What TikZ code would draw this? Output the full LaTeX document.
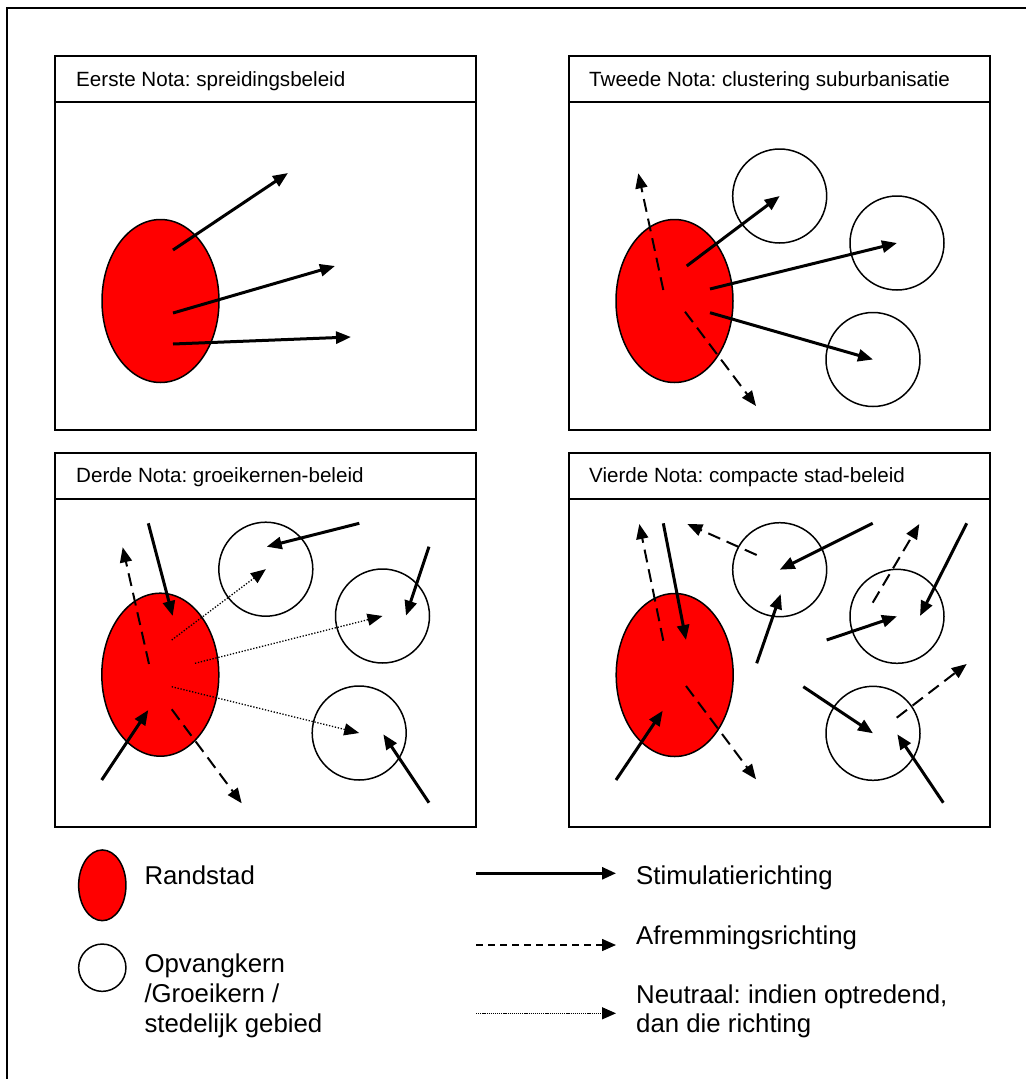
\documentclass[tikz,border=0pt]{standalone}
\usepackage{fontspec}
\setmainfont{Liberation Sans}
\usetikzlibrary{arrows.meta,shapes.geometric}
\frenchspacing

\begin{document}
\begin{tikzpicture}[x=1pt,y=-1pt,
  panel/.style={draw, line width=1.8pt, minimum width=421pt, minimum height=374pt, inner sep=0pt},
  title/.style={anchor=base west, inner sep=0pt, font=\fontsize{20.6}{24}\selectfont},
  legtext/.style={anchor=base west, inner sep=0pt, align=left, font=\fontsize{25.8}{29.7}\selectfont},
  randstad/.style={ellipse, draw, line width=1.5pt, fill=red, minimum width=117pt, minimum height=163pt, inner sep=0pt},
  kern/.style={circle, draw, line width=1.5pt, minimum size=94pt, inner sep=0pt},
  tip/.style={-{Triangle[length=15pt,width=12pt]}},
  stim/.style={tip, line width=3pt},
  rem/.style={tip, line width=2pt, dash pattern=on 13pt off 7pt},
  neut/.style={tip, line width=1.3pt, dash pattern=on 1.3pt off 1.7pt},
  legtip/.style={-{Triangle[length=14pt,width=12pt]}},
]
\useasboundingbox (0,0) rectangle (1026,1079);
\fill[white] (0,0) rectangle (1026,1079);

% outer frame (only top and left edges fall inside the page)
\draw[line width=2pt] (7,1079) -- (7,8) -- (1026,8);

% ---------- the four panels ----------
\node[panel] (p1) at (265.5,243) {};
\node[panel] (p2) at (779.5,243) {};
\node[panel] (p3) at (265.5,640) {};
\node[panel] (p4) at (779.5,640) {};
\foreach \p in {p1,p2,p3,p4}
  \draw[line width=1.8pt] ([yshift=-47pt]\p.north west) -- ([yshift=-47pt]\p.north east);

\node[title] (t1) at (76,86)    {Eerste Nota: spreidingsbeleid};
\node[title] (t2) at (589,86)   {Tweede Nota: clustering suburbanisatie};
\node[title] (t3) at (76,482.7) {Derde Nota: groeikernen-beleid};
\node[title] (t4) at (589,482.7){Vierde Nota: compacte stad-beleid};

% ---------- panel 1 ----------
\node[randstad] (e1) at (160.5,301) {};
\coordinate (a11) at (173,250);   \coordinate (b11) at (288,173);
\coordinate (a12) at (173,313);   \coordinate (b12) at (335,266);
\coordinate (a13) at (173,344);   \coordinate (b13) at (351,337);
\draw[stim] (a11) -- (b11);
\draw[stim] (a12) -- (b12);
\draw[stim] (a13) -- (b13);

% ---------- panel 2 ----------
\node[randstad] (e2) at (674.5,301) {};
\node[kern] (c21) at (779.7,196) {};
\node[kern] (c22) at (897,243) {};
\node[kern] (c23) at (873,359.5) {};
\coordinate (a21) at (686.7,266);
\coordinate (a22) at (710,289);
\coordinate (a23) at (710,312.7);
\draw[stim] (a21) -- (c21.center);
\draw[stim] (a22) -- (c22.center);
\draw[stim] (a23) -- (c23.center);
\coordinate (a24) at (663.3,290);   \coordinate (b24) at (638.3,173.3);
\coordinate (a25) at (685,311.7);   \coordinate (b25) at (756,406);
\draw[rem] (a24) -- (b24);
\draw[rem] (a25) -- (b25);

% ---------- panel 3 ----------
\node[randstad] (e3) at (160.3,674.7) {};
\node[kern] (c31) at (265.8,569.2) {};
\node[kern] (c32) at (382.5,616) {};
\node[kern] (c33) at (359.2,733) {};
\coordinate (a31) at (148.3,523.3);  \coordinate (b31) at (172.7,616);
\coordinate (a32) at (101.7,780);    \coordinate (b32) at (148.3,710);
\coordinate (a33) at (359.3,523.3);  \coordinate (b33) at (266.7,546.7);
\coordinate (a34) at (429,546.7);    \coordinate (b34) at (406,615.7);
\coordinate (a35) at (429,802.7);    \coordinate (b35) at (383.3,734.3);
\draw[stim] (a31) -- (b31);
\draw[stim] (a32) -- (b32);
\draw[stim] (a33) -- (b33);
\draw[stim] (a34) -- (b34);
\draw[stim] (a35) -- (b35);
\coordinate (a36) at (149,664);      \coordinate (b36) at (122.7,547.3);
\coordinate (a37) at (171.7,709.3);  \coordinate (b37) at (241.7,803.3);
\draw[rem] (a36) -- (b36);
\draw[rem] (a37) -- (b37);
\coordinate (a38) at (171.7,640);
\coordinate (a39) at (195,663.3);
\coordinate (a30) at (171.7,686.7);
\draw[neut] (a38) -- (c31.center);
\draw[neut] (a39) -- (c32.center);
\draw[neut] (a30) -- (c33.center);

% ---------- panel 4 ----------
\node[randstad] (e4) at (674.7,675) {};
\node[kern] (c41) at (779.7,569.7) {};
\node[kern] (c42) at (897,616.3) {};
\node[kern] (c43) at (873,733.3) {};
\coordinate (a41) at (663.3,523.3);  \coordinate (b41) at (686,640);
\coordinate (a42) at (616,780);      \coordinate (b42) at (662.7,710.7);
\coordinate (a43) at (872.7,523.3);
\coordinate (a44) at (756.7,663.3);  \coordinate (b44) at (780.7,594);
\coordinate (a45) at (966.7,523.3);  \coordinate (b45) at (920,616);
\coordinate (a46) at (826.7,640);
\coordinate (a47) at (803.3,686.7);
\coordinate (a48) at (943.3,802.7);  \coordinate (b48) at (897.3,734.3);
\draw[stim] (a41) -- (b41);
\draw[stim] (a42) -- (b42);
\draw[stim] (a43) -- (c41.center);
\draw[stim] (a44) -- (b44);
\draw[stim] (a45) -- (b45);
\draw[stim] (a46) -- (c42.center);
\draw[stim] (a47) -- (c43.center);
\draw[stim] (a48) -- (b48);
\coordinate (d41) at (663.3,640.7);  \coordinate (f41) at (639.3,524);
\coordinate (d42) at (686,686);      \coordinate (f42) at (756,779.3);
\coordinate (d43) at (756.7,555);    \coordinate (f43) at (687.3,524);
\coordinate (d44) at (872.7,602.7);  \coordinate (f44) at (919.3,524);
\coordinate (d45) at (896.7,717.7);  \coordinate (f45) at (966.7,664);
\draw[rem] (d41) -- (f41);
\draw[rem] (d42) -- (f42);
\draw[rem] (d43) -- (f43);
\draw[rem] (d44) -- (f44);
\draw[rem] (d45) -- (f45);

% ---------- legend ----------
\node[ellipse, draw, line width=1.5pt, fill=red, minimum width=47.3pt, minimum height=70.7pt, inner sep=0pt] (le) at (102.3,885.3) {};
\node[circle, draw, line width=1.5pt, minimum size=47.3pt, inner sep=0pt] (lc) at (102.3,967.7) {};
% multi-line nodes: the base anchor sits on the last line
\node[legtext] (lt1) at (144.3,884) {Randstad};
\node[legtext] (lt2) at (144.3,1032) {Opvangkern\\/Groeikern /\\stedelijk gebied};

\coordinate (ls1) at (476,873.3);   \coordinate (le1) at (616,873.3);
\coordinate (ls2) at (476,945);     \coordinate (le2) at (616,945);
\coordinate (ls3) at (476,1013.3);  \coordinate (le3) at (616,1013.3);
\draw[legtip, line width=2.7pt] (ls1) -- (le1);
\draw[legtip, line width=1.5pt, dash pattern=on 7pt off 5pt] (ls2) -- (le2);
\draw[legtip, line width=1.3pt, dash pattern=on 1.2pt off 0.9pt] (ls3) -- (le3);
\node[legtext] (lt3) at (636,884) {Stimulatierichting};
\node[legtext] (lt4) at (636,944) {Afremmingsrichting};
\node[legtext] (lt5) at (636,1032.7) {Neutraal: indien optredend,\\dan die richting};
\end{tikzpicture}
\end{document}
